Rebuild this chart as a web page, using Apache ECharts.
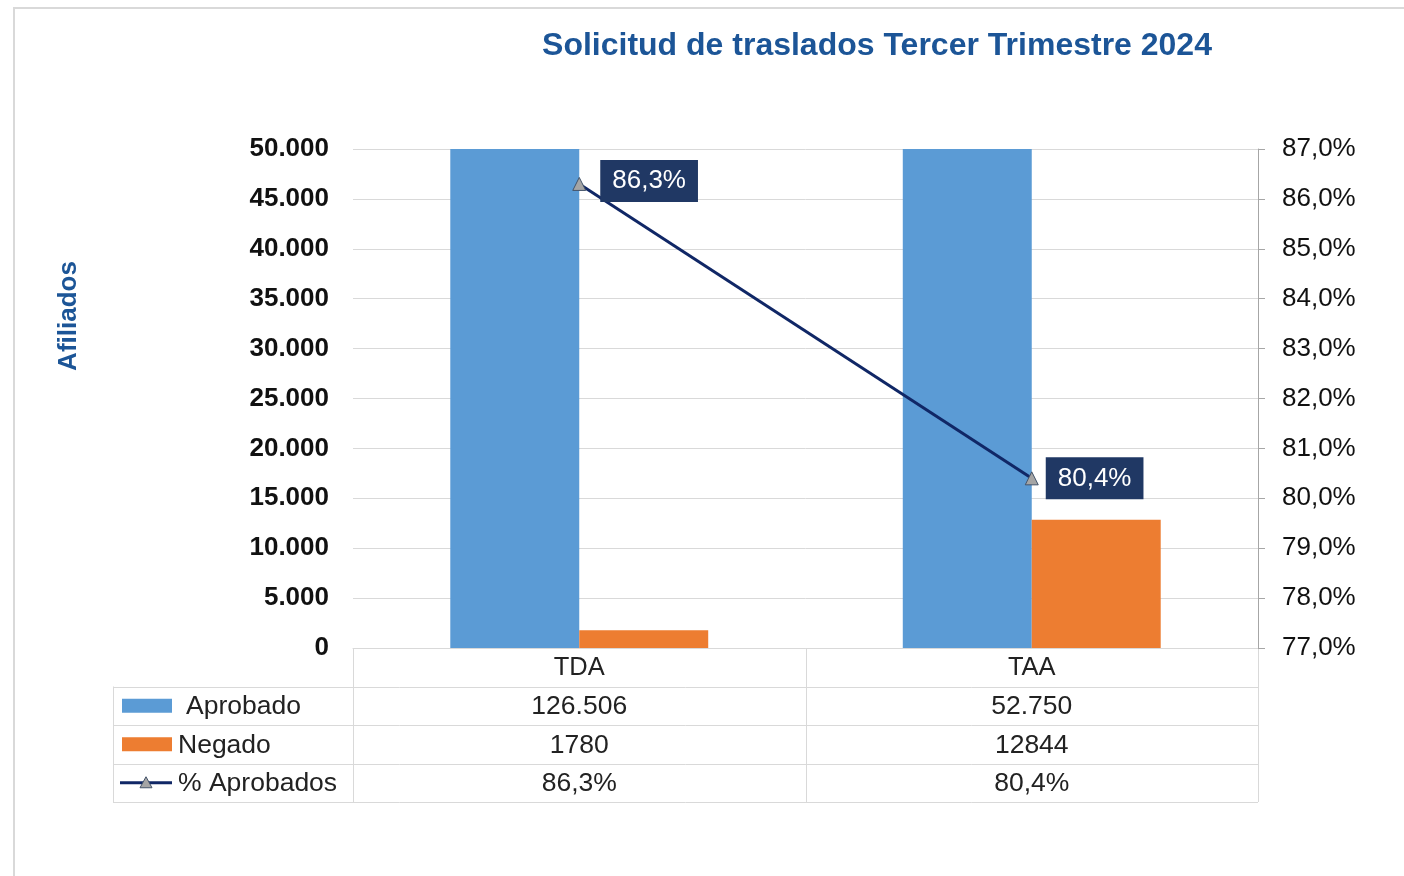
<!DOCTYPE html>
<html>
<head>
<meta charset="utf-8">
<script src="https://cdn.jsdelivr.net/npm/echarts@6/dist/echarts.min.js"></script>
<style>
  html, body { margin: 0; padding: 0; background: #fff; }
  #chart { width: 1404px; height: 876px; }
</style>
</head>
<body>
<div id="chart"></div>
<script>
// datos del gráfico
var categorias = ['TDA', 'TAA'];
var aprobado = [126506, 52750];
var negado = [1780, 12844];
var pctAprobados = [86.3, 80.4];
var serieNombres = ['Aprobado', 'Negado', '% Aprobados'];

var colores = ['#5b9bd5', '#ed7d31', '#102766'];
var fuente = '"Liberation Sans", Arial, sans-serif';

// layout
var gLeft = 353, gRight = 1258, gTop = 149, gBottom = 648;
var filaAlto = 38.5;

function miles(v) {
  return String(v).replace(/\B(?=(\d{3})+(?!\d))/g, '.');
}
function pct(v) {
  return v.toFixed(1).replace('.', ',') + '%';
}

var chart = echarts.init(document.getElementById('chart'));

var option = {
  animation: false,
  backgroundColor: '#fff',
  textStyle: { fontFamily: fuente },
  title: {
    text: 'Solicitud de traslados Tercer Trimestre 2024',
    left: 872, top: 25, textAlign: 'center',
    textStyle: { fontFamily: fuente, fontSize: 32, fontWeight: 'bold', color: '#1c5597' }
  },
  grid: { left: gLeft, right: 1404 - gRight, top: gTop, bottom: 876 - gBottom },
  xAxis: {
    type: 'category',
    data: categorias,
    axisLine: { lineStyle: { color: '#d9d9d9', width: 1 } },
    axisTick: { show: false },
    axisLabel: { margin: 7, fontSize: 25.5, color: '#222', fontFamily: fuente }
  },
  yAxis: [
    {
      type: 'value', min: 0, max: 50000, interval: 5000,
      axisLine: { show: false },
      axisTick: { show: false },
      axisLabel: {
        margin: 24, fontSize: 26, fontWeight: 'bold', color: '#111', fontFamily: fuente,
        padding: [4, 0, 0, 0],
        formatter: function (v) { return miles(v); }
      },
      splitLine: { lineStyle: { color: '#d9d9d9', width: 1 } }
    },
    {
      type: 'value', min: 77, max: 87, interval: 1, position: 'right',
      axisLine: { show: true, lineStyle: { color: '#a6a6a6', width: 1 } },
      axisTick: { show: true, inside: false, length: 7, lineStyle: { color: '#a6a6a6' } },
      axisLabel: {
        margin: 24, fontSize: 26, color: '#111', fontFamily: fuente,
        padding: [4, 0, 0, 0],
        formatter: function (v) { return pct(v); }
      },
      splitLine: { show: false }
    }
  ],
  series: [
    {
      name: serieNombres[0], type: 'bar', data: aprobado,
      barGap: '0%', barCategoryGap: '43%', clip: true,
      itemStyle: { color: colores[0] }
    },
    {
      name: serieNombres[1], type: 'bar', data: negado,
      barGap: '0%', barCategoryGap: '43%', clip: true,
      itemStyle: { color: colores[1] }
    },
    {
      name: serieNombres[2], type: 'line', yAxisIndex: 1, z: 5,
      data: pctAprobados.map(function (v, i) {
        return { value: v, label: { offset: i === 0 ? [7, -3] : [0, 0] } };
      }),
      symbol: 'triangle', symbolSize: 13,
      itemStyle: { color: '#a5a5a5', borderColor: '#44546a', borderWidth: 1 },
      lineStyle: { color: colores[2], width: 3 },
      label: {
        show: true, position: 'right', distance: 7,
        formatter: function (p) { return pct(p.value); },
        backgroundColor: '#203864', color: '#fff',
        fontSize: 26, fontFamily: fuente,
        padding: [9, 12, 7, 12]
      }
    }
  ]
};

chart.setOption(option);

// tabla de datos debajo del eje
function construirTabla() {
  var g = [];
  var lineCol = '#d9d9d9';
  var legIzq = 113;
  var colAncho = (gRight - gLeft) / categorias.length;
  var filas = [aprobado.map(miles), negado.map(String), pctAprobados.map(pct)];
  var yFin = gBottom + filaAlto * 4;

  // marco exterior
  g.push({ type: 'rect', shape: { x: 14, y: 8, width: 1500, height: 1000 },
    style: { fill: 'none', stroke: '#d9d9d9', lineWidth: 2 }, silent: true });

  // título del eje izquierdo
  g.push({ type: 'text', x: 69, y: 316, rotation: Math.PI / 2,
    style: { text: 'Afiliados', fontSize: 26, fontWeight: 'bold', fontFamily: fuente,
      fill: '#1c5597', align: 'center', verticalAlign: 'middle' } });

  // verticales
  for (var c = 0; c <= categorias.length; c++) {
    var x = Math.round(gLeft + c * colAncho) + 0.5;
    g.push({ type: 'line', shape: { x1: x, y1: gBottom, x2: x, y2: yFin },
      style: { stroke: lineCol, lineWidth: 1 } });
  }
  g.push({ type: 'line', shape: { x1: legIzq + 0.5, y1: gBottom + filaAlto, x2: legIzq + 0.5, y2: yFin },
    style: { stroke: lineCol, lineWidth: 1 } });

  // horizontales
  for (var r = 1; r <= 4; r++) {
    var y = Math.round(gBottom + r * filaAlto) + 0.5;
    g.push({ type: 'line', shape: { x1: legIzq, y1: y, x2: gRight, y2: y },
      style: { stroke: lineCol, lineWidth: 1 } });
  }

  // filas
  for (var i = 0; i < filas.length; i++) {
    var yc = gBottom + (i + 1.5) * filaAlto;
    // icono de leyenda
    if (i < 2) {
      g.push({ type: 'rect', shape: { x: 122, y: yc - 7, width: 50, height: 14 },
        style: { fill: colores[i] } });
    } else {
      g.push({ type: 'line', shape: { x1: 120, y1: yc, x2: 172, y2: yc },
        style: { stroke: colores[2], lineWidth: 3 } });
      g.push({ type: 'polygon', shape: { points: [[146, yc - 6], [140, yc + 5], [152, yc + 5]] },
        style: { fill: '#a5a5a5', stroke: '#44546a', lineWidth: 1 } });
    }
    g.push({ type: 'text', x: i === 0 ? 186 : 178, y: yc + 1,
      style: { text: serieNombres[i], fontSize: 26.5, fontFamily: fuente, fill: '#222',
        verticalAlign: 'middle' } });
    for (var k = 0; k < categorias.length; k++) {
      g.push({ type: 'text', x: gLeft + (k + 0.5) * colAncho, y: yc + 1,
        style: { text: filas[i][k], fontSize: 26.5, fontFamily: fuente, fill: '#222',
          align: 'center', verticalAlign: 'middle' } });
    }
  }
  chart.setOption({ graphic: g });
}
construirTabla();
</script>
</body>
</html>
